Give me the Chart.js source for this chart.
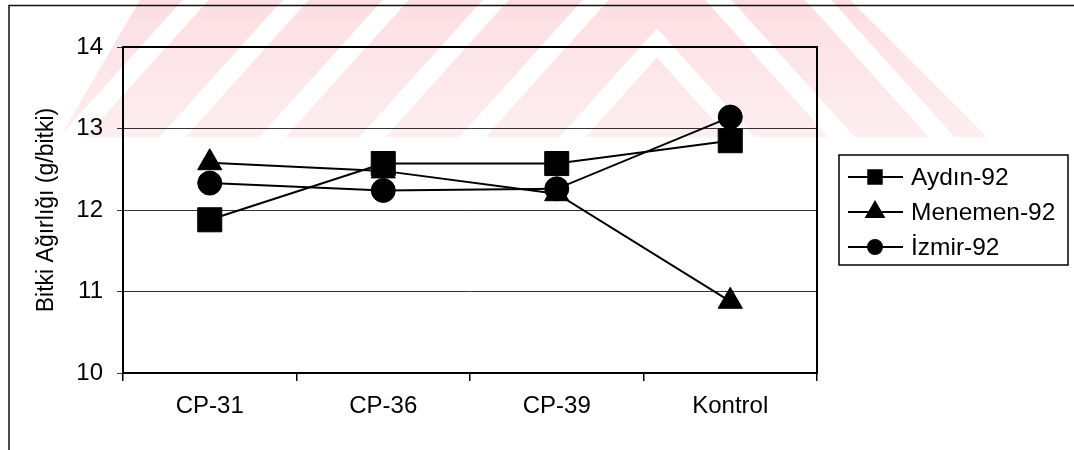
<!DOCTYPE html>
<html>
<head>
<meta charset="utf-8">
<script src="https://cdn.jsdelivr.net/npm/chart.js@4.4.1/dist/chart.umd.min.js"></script>
<style>
html,body{margin:0;padding:0;background:#fff;}
#wrap{width:1074px;height:450px;position:relative;}
canvas{display:block;}
</style>
</head>
<body>
<div id="wrap"><canvas id="c" width="1074" height="450"></canvas></div>
<script>
// ---- data ----
const categories = ['CP-31', 'CP-36', 'CP-39', 'Kontrol'];
const seriesNames = ['Aydın-92', 'Menemen-92', 'İzmir-92'];
const aydin   = [11.88, 12.57, 12.57, 12.85];
const menemen = [12.58, 12.48, 12.20, 10.88];
const izmir   = [12.33, 12.24, 12.26, 13.14];
const yTicks  = [10, 11, 12, 13, 14];
const yTitle  = 'Bitki Ağırlığı (g/bitki)';

const FONT = '"Liberation Sans", Arial, Helvetica, sans-serif';
const styles = [
  {pointStyle: 'rect', radius: 17, legendRadius: 9.5},
  {pointStyle: 'triangle', radius: 14, legendRadius: 10},
  {pointStyle: 'circle', radius: 12, legendRadius: 7}
];
const seriesValues = [aydin, menemen, izmir];

// watermark + outer frame
const backgroundPlugin = {
  id: 'bg',
  beforeDraw(chart) {
    const ctx = chart.ctx;
    ctx.save();
    ctx.fillStyle = '#fff';
    ctx.fillRect(0, 0, chart.width, chart.height);
    ctx.beginPath();
    ctx.moveTo(140, 0); ctx.lineTo(850, 0); ctx.lineTo(987, 137); ctx.lineTo(60, 137);
    ctx.closePath();
    ctx.clip();
    const g = ctx.createLinearGradient(0, 0, 0, 137);
    g.addColorStop(0, '#fcdee3');
    g.addColorStop(1, '#fdeef0');
    ctx.fillStyle = g;
    ctx.fillRect(0, 0, chart.width, 140);
    ctx.fillStyle = '#ffffff';
    const ax = 657, s = 0.9, P = 100, w = 26;
    for (let k = -12; k <= 4; k++) {
      const c = 38.7 + k * P;
      const c1 = c - w / 2, c2 = c + w / 2;
      const yAt = (cc, x) => (cc + Math.abs(x - ax)) / s;
      ctx.beginPath();
      ctx.moveTo(0, yAt(c1, 0)); ctx.lineTo(ax, yAt(c1, ax)); ctx.lineTo(1074, yAt(c1, 1074));
      ctx.lineTo(1074, yAt(c2, 1074)); ctx.lineTo(ax, yAt(c2, ax)); ctx.lineTo(0, yAt(c2, 0));
      ctx.closePath();
      ctx.fill();
    }
    ctx.restore();
    ctx.save();
    ctx.strokeStyle = '#111';
    ctx.lineWidth = 1.5;
    ctx.beginPath();
    ctx.moveTo(9, 450); ctx.lineTo(9, 5.5); ctx.lineTo(1074, 5.5);
    ctx.stroke();
    ctx.restore();
  }
};

// plot-area frame
const framePlugin = {
  id: 'frame',
  beforeDatasetsDraw(chart) {
    const {ctx, chartArea: a} = chart;
    ctx.save();
    ctx.strokeStyle = '#000';
    ctx.lineWidth = 2;
    ctx.strokeRect(a.left, a.top, a.right - a.left, a.bottom - a.top);
    ctx.restore();
  }
};

// boxed legend with line + marker samples
const legendPlugin = {
  id: 'boxLegend',
  afterDraw(chart) {
    const ctx = chart.ctx;
    const bx = 839, by = 155, bw = 229, bh = 110;
    ctx.save();
    ctx.fillStyle = '#fff';
    ctx.fillRect(bx, by, bw, bh);
    ctx.strokeStyle = '#000';
    ctx.lineWidth = 1.5;
    ctx.strokeRect(bx, by, bw, bh);
    chart.data.datasets.forEach((ds, i) => {
      const y = 177 + i * 35;
      ctx.strokeStyle = '#000';
      ctx.lineWidth = 2;
      ctx.beginPath(); ctx.moveTo(848, y); ctx.lineTo(903, y); ctx.stroke();
      ctx.fillStyle = '#000';
      Chart.helpers.drawPoint(ctx, {pointStyle: ds.pointStyle, radius: styles[i].legendRadius, rotation: 0, borderWidth: 1}, 875, y);
      ctx.fillStyle = '#000';
      ctx.font = '24.5px ' + FONT;
      ctx.textBaseline = 'middle';
      ctx.textAlign = 'left';
      ctx.fillText(ds.label, 911, y + 1);
    });
    ctx.restore();
  }
};

const datasets = seriesNames.map((name, i) => ({
  label: name,
  data: seriesValues[i],
  borderColor: '#000',
  backgroundColor: '#000',
  borderWidth: 2,
  pointStyle: styles[i].pointStyle,
  pointRadius: styles[i].radius,
  pointHoverRadius: styles[i].radius,
  pointBackgroundColor: '#000',
  pointBorderColor: '#000',
  pointBorderWidth: 1,
  tension: 0,
  fill: false
}));

new Chart(document.getElementById('c'), {
  type: 'line',
  data: {labels: categories, datasets},
  plugins: [backgroundPlugin, framePlugin, legendPlugin],
  options: {
    responsive: false,
    animation: false,
    devicePixelRatio: 1,
    layout: {padding: {left: 10, right: 257, top: 47, bottom: 0}},
    plugins: {legend: {display: false}, tooltip: {enabled: false}},
    scales: {
      x: {
        type: 'category',
        offset: true,
        grid: {display: true, drawOnChartArea: false, drawTicks: true, tickLength: 8, offset: true, color: '#000', lineWidth: 1.5},
        border: {display: true, color: '#000', width: 2},
        ticks: {color: '#000', font: {family: FONT, size: 24}, padding: 11, maxRotation: 0},
        afterFit(s) { s.height = 77; }
      },
      y: {
        min: yTicks[0],
        max: yTicks[yTicks.length - 1],
        afterBuildTicks(s) { s.ticks = yTicks.map(v => ({value: v})); },
        grid: {color: '#333', lineWidth: 1, drawTicks: true, tickLength: 6},
        border: {display: true, color: '#000', width: 2},
        ticks: {color: '#000', font: {family: FONT, size: 24}, padding: 14},
        title: {display: true, text: yTitle, color: '#000', font: {family: FONT, size: 23}, padding: {top: 23, bottom: 0}},
        afterFit(s) { s.width = 113; }
      }
    }
  }
});
</script>
</body>
</html>
